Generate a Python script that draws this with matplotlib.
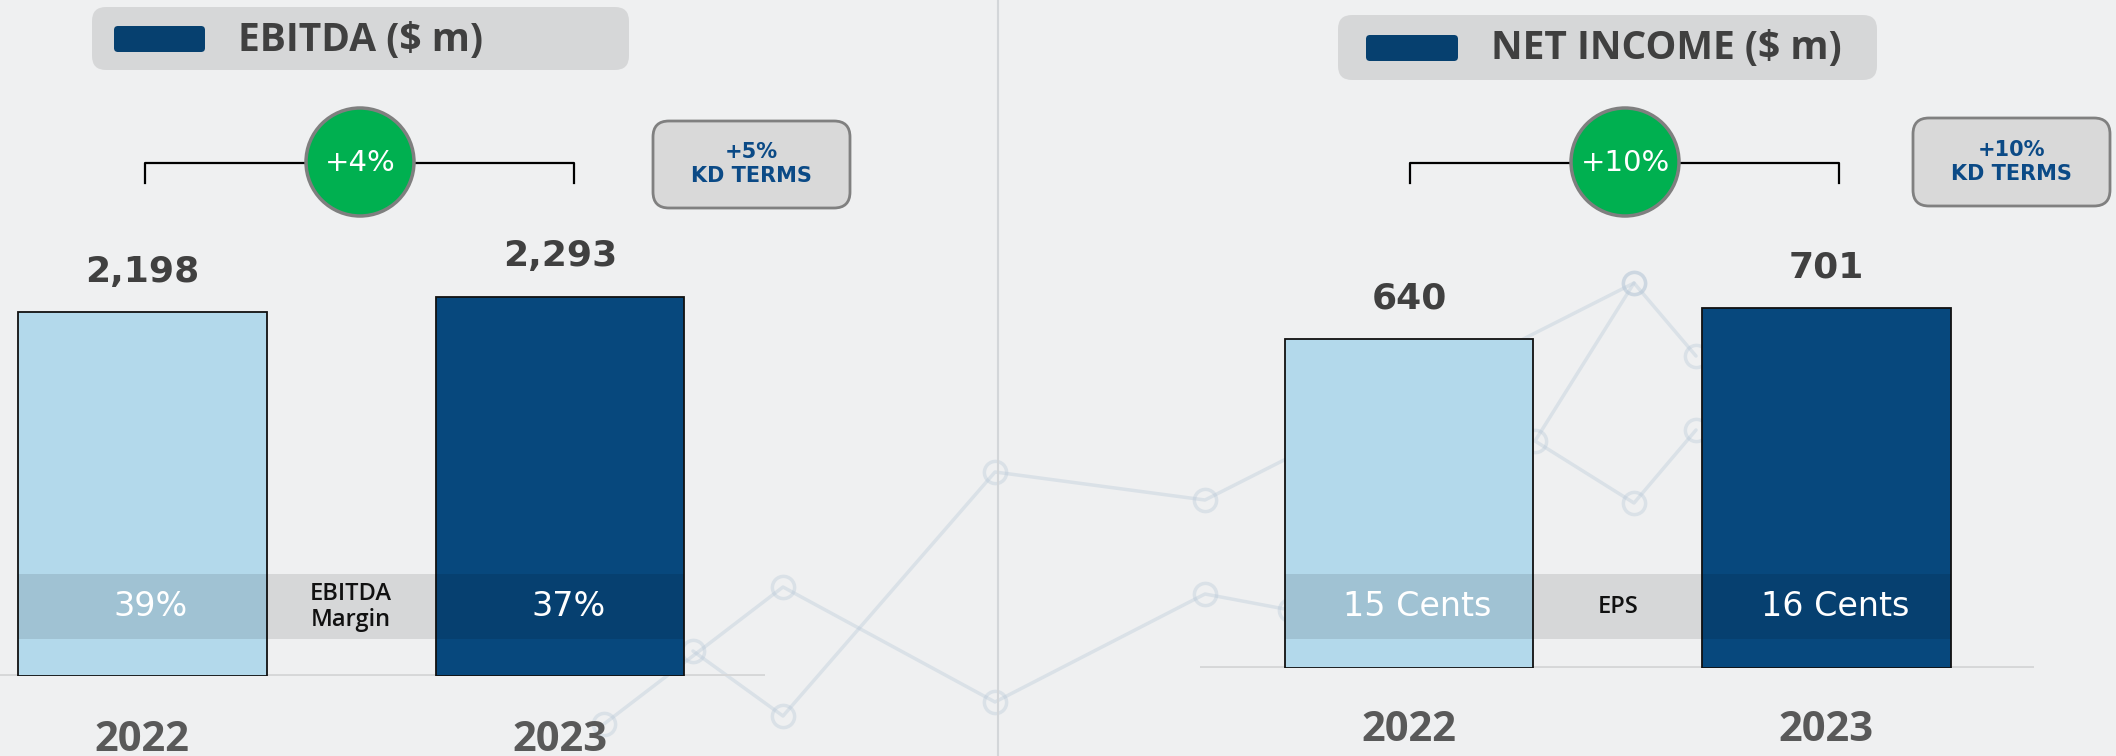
import matplotlib
matplotlib.use("Agg")
import matplotlib.pyplot as plt
from matplotlib.patches import Rectangle, FancyBboxPatch, Circle
from matplotlib.transforms import blended_transform_factory

# ---- data -------------------------------------------------------------
years = ["2022", "2023"]
ebitda = [2198, 2293]
net_income = [640, 701]
ebitda_margin = ["39%", "37%"]
eps = ["15 Cents", "16 Cents"]
growth = ["+4%", "+10%"]
kd_growth = ["+5%", "+10%"]
titles = ["EBITDA ($ m)", "NET INCOME ($ m)"]
band_titles = ["EBITDA\nMargin", "EPS"]

# faint decorative trend lines in the backdrop (pixel space)
deco_a_x = [604, 783, 995, 1205, 1290]
deco_a_y = [724, 587, 702, 594, 610]
deco_b_x = [693, 783, 995, 1205, 1634, 1696]
deco_b_y = [651, 716, 472, 500, 283, 356]
deco_c_x = [1634, 1535, 1634, 1696]
deco_c_y = [283, 441, 503, 430]

# ---- style ------------------------------------------------------------
W, H = 2116, 756
BG = "#eff0f1"
LIGHT = "#b3d9eb"
DARK = "#07487d"
NAVY = "#06406f"
GREEN = "#00b050"
KD_BLUE = "#0b4a86"
TXT = "#404040"
YEAR = "#595959"
BAR_W = 0.596


def rect(x0, y0, x1, y1):
    """Pixel box (top-left origin) -> figure fraction rect."""
    return [x0 / W, 1 - y1 / H, (x1 - x0) / W, (y1 - y0) / H]


fig = plt.figure(figsize=(W / 100, H / 100), dpi=100)
fig.patch.set_facecolor(BG)

# background layer in pixel coordinates
bg = fig.add_axes([0, 0, 1, 1], zorder=0)
bg.set_xlim(0, W)
bg.set_ylim(H, 0)
bg.axis("off")
for xs, ys in [(deco_a_x, deco_a_y), (deco_b_x, deco_b_y), (deco_c_x, deco_c_y)]:
    bg.plot(xs, ys, color="#b8c9d8", lw=2.5, alpha=0.38, marker="o", ms=16,
            mfc="none", mec="#b8c9d8", mew=2.5, solid_capstyle="round")
bg.axvline(998, color="#d3d6d9", lw=1.5)

# foreground overlay (bands, badges, labels) in pixel coordinates
fg = fig.add_axes([0, 0, 1, 1], zorder=3)
fg.set_xlim(0, W)
fg.set_ylim(H, 0)
fg.axis("off")
fg.patch.set_visible(False)

panels = [
    dict(values=ebitda, band=ebitda_margin, band_title=band_titles[0],
         title=titles[0], growth=growth[0], kd=kd_growth[0],
         ax_box=(0, 0, 765, 676), xlim=(-0.341, 1.491), ytop=4087,
         title_box=(92, 7, 629, 70), swatch=(114, 26, 205, 52), title_y=41,
         bracket=(145, 574, 163, 183), circle=(360, 162),
         kd_box=(653, 121, 850, 208), year_y=720),
    dict(values=net_income, band=eps, band_title=band_titles[1],
         title=titles[1], growth=growth[1], kd=kd_growth[1],
         ax_box=(1200, 0, 2034, 668), xlim=(-0.5006, 1.497), ytop=1300,
         title_box=(1338, 15, 1877, 80), swatch=(1366, 35, 1458, 61), title_y=48,
         bracket=(1410, 1839, 163, 183), circle=(1625, 162),
         kd_box=(1913, 118, 2110, 206), year_y=710),
]

for p in panels:
    ax = fig.add_axes(rect(*p["ax_box"]), zorder=2)
    ax.patch.set_visible(False)
    x = list(range(len(years)))
    ax.bar(x, p["values"], width=BAR_W, color=[LIGHT, DARK],
           edgecolor="#111111", linewidth=1.3, zorder=3)
    ax.axhline(0, color="#d6d7d8", lw=3.5, zorder=2)
    ax.set_xlim(*p["xlim"])
    ax.set_ylim(0, p["ytop"])
    ax.axis("off")

    for xi, v in zip(x, p["values"]):
        ax.annotate(f"{v:,}", (xi, v), xytext=(0, 17), textcoords="offset points",
                    ha="center", va="bottom", fontsize=26, fontweight="bold",
                    color=TXT, family="DejaVu Sans", annotation_clip=False)

    # x from the bar axes, y in pixels
    tr = blended_transform_factory(ax.transData, fg.transData)

    # translucent band across both bars
    fg.add_patch(Rectangle((-BAR_W / 2, 574), 1 + BAR_W, 65, transform=tr,
                           facecolor="black", alpha=0.1, lw=0))
    for xi, lab in zip(x, p["band"]):
        fg.text(xi + 0.02, 607, lab, transform=tr, ha="center", va="center",
                fontsize=24, color="white", family="DejaVu Sans")
    fg.text(0.5, 607, p["band_title"], transform=tr, ha="center", va="center",
            fontsize=17, fontweight="semibold", color="#111111",
            family="Open Sans", linespacing=1.1)

    for xi, yr in zip(x, years):
        fg.text(xi, p["year_y"], yr, transform=tr, ha="center", va="top",
                fontsize=30, fontweight="bold", color=YEAR, family="Open Sans")

    # title pill
    x0, y0, x1, y1 = p["title_box"]
    fg.add_patch(FancyBboxPatch((x0 + 8, y0 + 8), x1 - x0 - 16, y1 - y0 - 16,
                                boxstyle="round,pad=8,rounding_size=14",
                                facecolor="#d2d3d4", alpha=0.85, lw=0))
    sx0, sy0, sx1, sy1 = p["swatch"]
    fg.add_patch(FancyBboxPatch((sx0 + 3, sy0 + 3), sx1 - sx0 - 6, sy1 - sy0 - 6,
                                boxstyle="round,pad=3,rounding_size=4",
                                facecolor=NAVY, lw=0))
    fg.text(sx1 + 33, p["title_y"], p["title"], ha="left", va="center",
            fontsize=28, fontweight="bold", color=TXT, family="Open Sans")

    # growth bracket with badge on top of it
    bx0, bx1, by, byt = p["bracket"]
    fg.plot([bx0, bx0, bx1, bx1], [byt, by, by, byt], color="black", lw=1.6,
            zorder=2)
    cx, cy = p["circle"]
    fg.add_patch(Circle((cx, cy), 54, facecolor=GREEN, edgecolor="#7f7f7f",
                        lw=2.5, zorder=4))
    fg.text(cx, cy + 1, p["growth"], ha="center", va="center", fontsize=21,
            color="white", family="DejaVu Sans", zorder=5)

    # growth in local currency
    kx0, ky0, kx1, ky1 = p["kd_box"]
    fg.add_patch(FancyBboxPatch((kx0 + 12, ky0 + 12), kx1 - kx0 - 24, ky1 - ky0 - 24,
                                boxstyle="round,pad=12,rounding_size=16",
                                facecolor="#d9d9d9", edgecolor="#808080", lw=2))
    fg.text((kx0 + kx1) / 2, (ky0 + ky1) / 2, f"{p['kd']}\nKD TERMS",
            ha="center", va="center", fontsize=15, fontweight="bold",
            color=KD_BLUE, family="DejaVu Sans", linespacing=1.25)

fig.savefig("out.png", dpi=100, facecolor=BG)
plt.close(fig)
